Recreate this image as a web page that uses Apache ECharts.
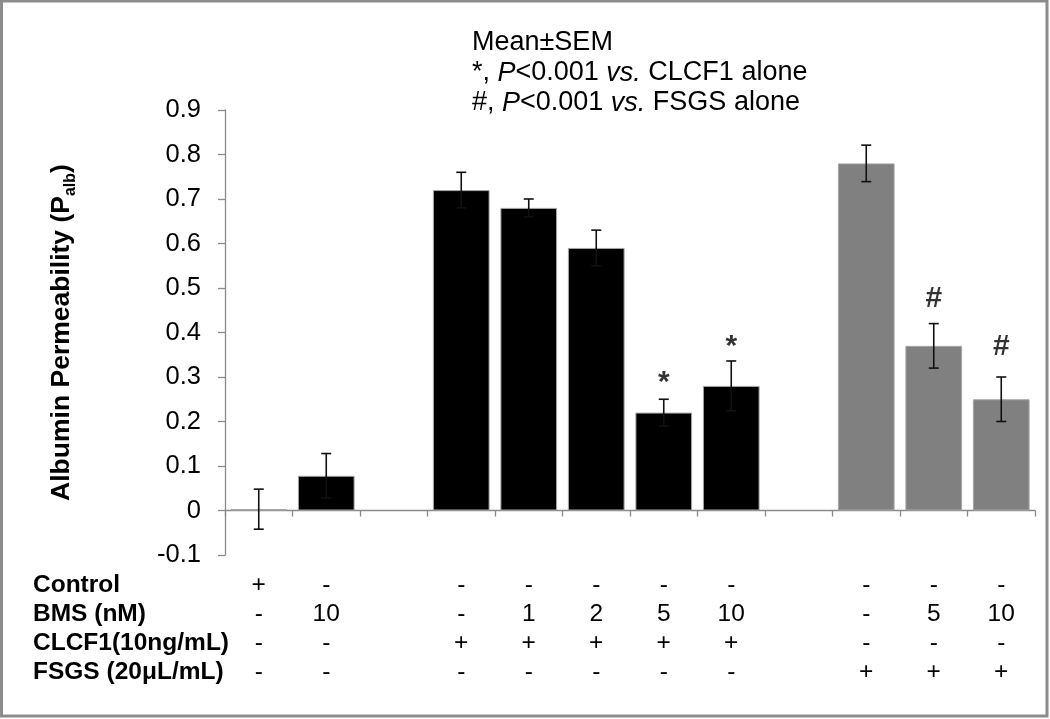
<!DOCTYPE html>
<html>
<head>
<meta charset="utf-8">
<script src="https://cdn.jsdelivr.net/npm/echarts@6/dist/echarts.min.js"></script>
<style>
  html, body { margin: 0; padding: 0; background: #fff; }
  #chart { width: 1050px; height: 719px; }
</style>
</head>
<body>
<div id="chart"></div>
<script>
// ---- data ----
const categories = ['Control', 'BMS 10', 'gap A', 'CLCF1', 'CLCF1+BMS 1', 'CLCF1+BMS 2', 'CLCF1+BMS 5', 'CLCF1+BMS 10', 'gap B', 'FSGS', 'FSGS+BMS 5', 'FSGS+BMS 10'];
const meanValues = [0.003, 0.078, null, 0.72, 0.68, 0.59, 0.22, 0.28, null, 0.78, 0.37, 0.25];
const semValues  = [0.045, 0.05, null, 0.04, 0.02, 0.04, 0.03, 0.056, null, 0.041, 0.05, 0.05];
const markText   = ['', '', '', '', '', '', '*', '*', '', '', '#', '#'];
const markY      = [null, null, null, null, null, null, 0.287, 0.367, null, null, 0.475, 0.367];

const rowNames = ['Control', 'BMS (nM)', 'CLCF1(10ng/mL)', 'FSGS (20\u03bcL/mL)'];
const rowControl = ['+', '-', '', '-', '-', '-', '-', '-', '', '-', '-', '-'];
const rowBMS     = ['-', '10', '', '-', '1', '2', '5', '10', '', '-', '5', '10'];
const rowCLCF1   = ['-', '-', '', '+', '+', '+', '+', '+', '', '-', '-', '-'];
const rowFSGS    = ['-', '-', '', '-', '-', '-', '-', '-', '', '+', '+', '+'];

const yTickMin = -0.1, yTickMax = 0.9, yTickStep = 0.1;
const legendLines = ['Mean\u00b1SEM', '*, P<0.001 vs. CLCF1 alone', '#, P<0.001 vs. FSGS alone'];

// ---- styles ----
const BLACK = '#000000', GRAY = '#808080', AXIS = '#8a8a8a';
const FONT = '"Liberation Sans", Arial, sans-serif';
const rows = [rowControl, rowBMS, rowCLCF1, rowFSGS];

const chart = echarts.init(document.getElementById('chart'));

const gridTop = 110, gridBottom = 164, gridLeft = 225, gridRight = 15;
const rowCenters = [585, 614, 643, 672];

const graphics = [
  { type: 'rect', shape: { x: 1.5, y: 1, width: 1045.5, height: 715 },
    style: { fill: 'none', stroke: '#8c8c8c', lineWidth: 3 }, silent: true, z: 100 },
  { type: 'text', x: 472, y: 28,
    style: {
      text: '{n|' + legendLines[0] + '}\n' +
            '{n|*, }{i|P}{n|<0.001 }{i|vs.}{n| CLCF1 alone}\n' +
            '{n|#, }{i|P}{n|<0.001 }{i|vs.}{n| FSGS alone}',
      rich: {
        n: { fontSize: 27, fontFamily: FONT, lineHeight: 30, fill: '#000' },
        i: { fontSize: 27, fontFamily: FONT, fontStyle: 'italic', lineHeight: 30, fill: '#000' }
      },
      fill: '#000'
    }
  }
];
rowNames.forEach((name, r) => {
  graphics.push({
    type: 'text', x: 33, y: rowCenters[r],
    style: { text: name, fontSize: 24.5, fontWeight: 'bold', fontFamily: FONT,
             fill: '#000', verticalAlign: 'middle', align: 'left' }
  });
});

const option = {
  animation: false,
  backgroundColor: '#fff',
  grid: { left: gridLeft, right: gridRight, top: gridTop, bottom: gridBottom, containLabel: false, outerBoundsMode: 'none' },
  xAxis: {
    type: 'category',
    data: categories,
    boundaryGap: true,
    axisLine: { onZero: true, lineStyle: { color: AXIS, width: 1.3 } },
    axisTick: { show: true, length: 6, interval: 0, alignWithLabel: false, lineStyle: { color: AXIS, width: 1.3 } },
    axisLabel: {
      interval: 0,
      margin: 16,
      fontSize: 24.5,
      fontFamily: FONT,
      color: '#000',
      lineHeight: 29,
      hideOverlap: false,
      formatter: (val, idx) => rows.map(r => r[idx] || ' ').join('\n')
    },
    splitLine: { show: false }
  },
  yAxis: {
    type: 'value',
    min: yTickMin, max: yTickMax, interval: yTickStep,
    axisLine: { show: true, lineStyle: { color: AXIS, width: 1.3 } },
    axisTick: { show: true, length: 7, lineStyle: { color: AXIS, width: 1.3 } },
    splitLine: { show: false },
    axisLabel: {
      margin: 24, fontSize: 25.5, fontFamily: FONT, color: '#000',
      formatter: v => Math.abs(v) < 1e-9 ? '0' : v.toFixed(1)
    },
    name: '{b|Albumin Permeability (P}{s|alb}{b|)}',
    nameLocation: 'middle',
    nameGap: 146,
    nameRotate: 90,
    nameTextStyle: {
      rich: {
        b: { fontSize: 26.5, fontWeight: 'bold', fontFamily: FONT, color: '#000', lineHeight: 34 },
        s: { fontSize: 16, fontWeight: 'bold', fontFamily: FONT, color: '#000', lineHeight: 34, verticalAlign: 'bottom', padding: [10, 0, 0, 0] }
      }
    }
  },
  graphic: graphics,
  series: [
    {
      type: 'bar',
      barWidth: '84%',
      data: meanValues.map((v, i) => v == null ? '-' : {
        value: v,
        itemStyle: { color: rowFSGS[i] === '+' ? GRAY : BLACK, borderColor: '#a6a6a6', borderWidth: 1 }
      }),
      z: 2
    },
    {
      type: 'custom',
      data: meanValues.map((v, i) => v == null ? [i, null, null] : [i, v - semValues[i], v + semValues[i]]),
      encode: { x: 0, y: [1, 2] },
      renderItem: (params, api) => {
        const lo = api.value(1), hi = api.value(2);
        if (lo == null || isNaN(lo)) return null;
        const i = api.value(0);
        const pLo = api.coord([i, lo]);
        const pHi = api.coord([i, hi]);
        const cap = 5;
        const st = { stroke: '#111', lineWidth: 1.6 };
        return {
          type: 'group',
          children: [
            { type: 'line', shape: { x1: pLo[0], y1: pLo[1], x2: pHi[0], y2: pHi[1] }, style: st },
            { type: 'line', shape: { x1: pHi[0] - cap, y1: pHi[1], x2: pHi[0] + cap, y2: pHi[1] }, style: st },
            { type: 'line', shape: { x1: pLo[0] - cap, y1: pLo[1], x2: pLo[0] + cap, y2: pLo[1] }, style: st }
          ]
        };
      },
      z: 3
    },
    {
      type: 'scatter',
      symbolSize: 0,
      data: markY.map((y, i) => y == null ? null : { value: [i, y], label: { formatter: markText[i] } }).filter(d => d),
      label: {
        show: true, position: 'inside', color: '#000',
        fontSize: 30, fontFamily: FONT, fontWeight: 'bold'
      },
      z: 4
    }
  ]
};
chart.setOption(option);
</script>
</body>
</html>
